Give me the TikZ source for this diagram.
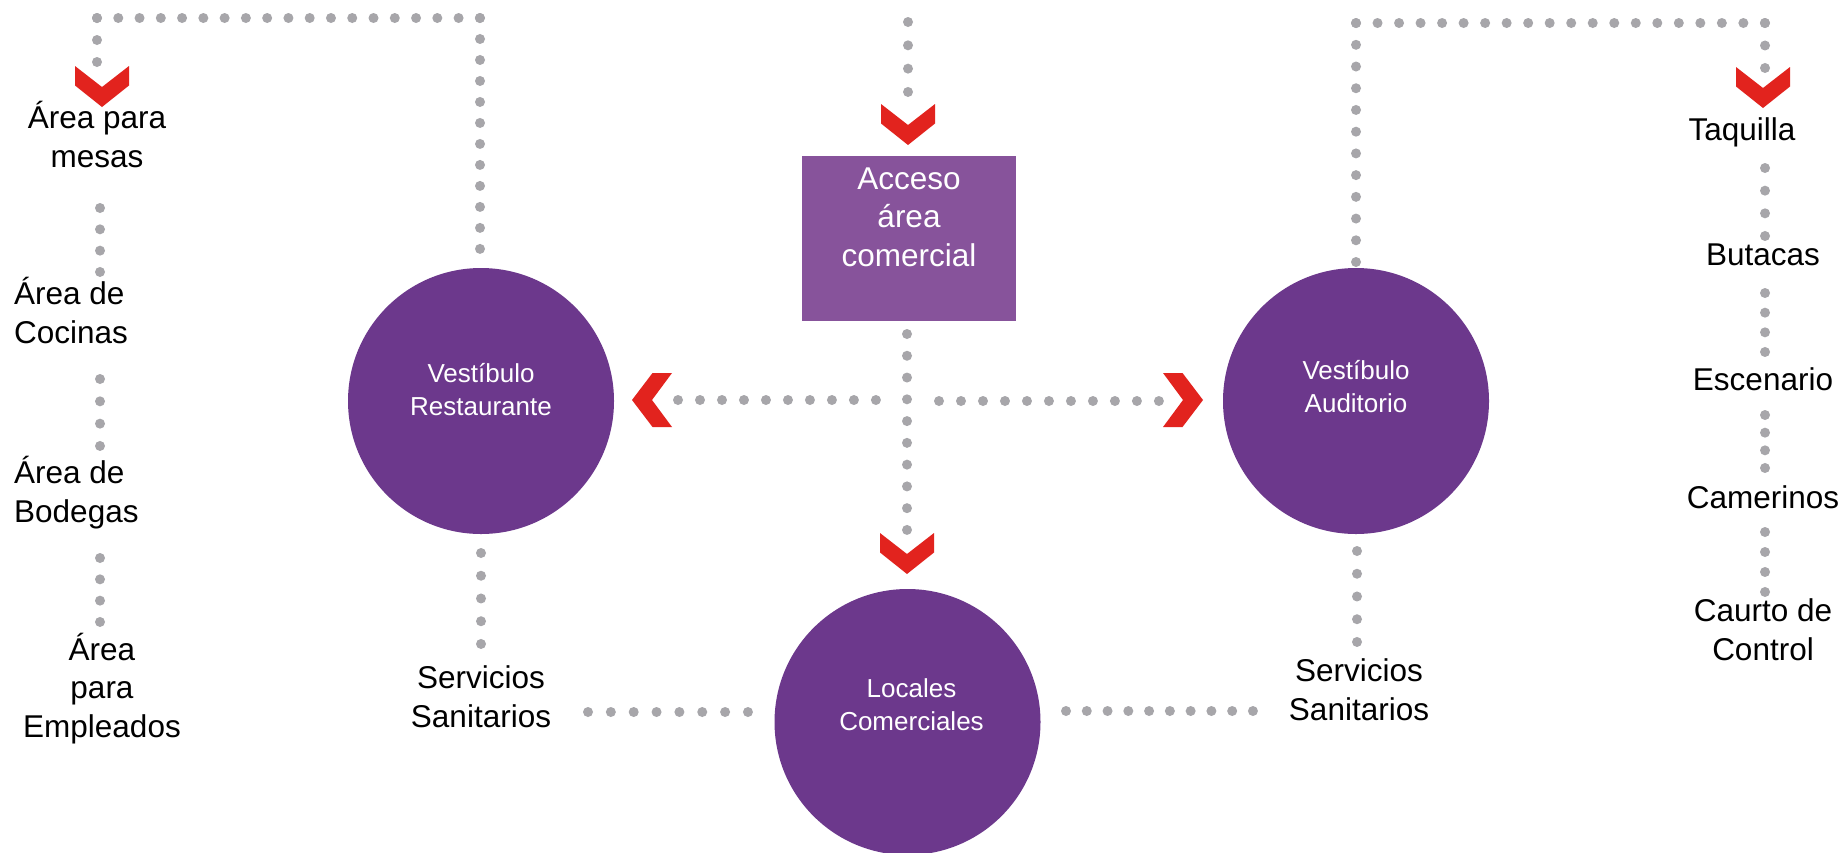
\documentclass[tikz,border=0pt]{standalone}
\usepackage{fontspec}
\setmainfont{Liberation Sans}
\definecolor{circ}{HTML}{6C388C}
\definecolor{boxc}{HTML}{87539B}
\definecolor{chevc}{HTML}{E2231E}
\definecolor{dotgray}{HTML}{A7A6AA}
\newcommand{\chevDown}[1]{\fill[chev, shift={#1}] (0,0) -- (-27,-21.5) -- (-27,-41) -- (0,-20) -- (27,-41) -- (27,-21.5) -- cycle;}
\newcommand{\chevLeft}[1]{\fill[chev, shift={#1}] (0,0) -- (20.5,-27) -- (40,-27) -- (20,0) -- (40,27) -- (20.5,27) -- cycle;}
\newcommand{\chevRight}[1]{\fill[chev, shift={#1}] (0,0) -- (-20.5,-27) -- (-40,-27) -- (-20,0) -- (-40,27) -- (-20.5,27) -- cycle;}
\begin{document}
\begin{tikzpicture}[x=1pt,y=-1pt,
  dots/.style={draw=dotgray, line width=10pt, line cap=round, dash pattern=on 0pt off #1pt},
  lbl/.style={font=\fontsize{31.5}{38.5}\selectfont, inner sep=0pt, text=black},
  ctext/.style={font=\fontsize{26}{33}\selectfont, text=white, inner sep=0pt, align=center},
  hub/.style={circle, fill=circ, minimum size=266pt, inner sep=0pt},
  boxnode/.style={rectangle, fill=boxc, minimum width=214pt, minimum height=165pt, inner sep=0pt},
  chev/.style={fill=chevc}
]
\useasboundingbox (0,0) rectangle (1841,852);
\fill[white] (0,0) rectangle (1841,852);
\clip (0,0) rectangle (1841,852);

% hubs
\node[hub, label={[ctext, yshift=11.5pt]center:{Vestíbulo\\Restaurante}}] (rest) at (481,401) {};
\node[hub, label={[ctext, yshift=14.5pt]center:{Vestíbulo\\Auditorio}}] (audi) at (1356,401) {};
\node[hub, label={[ctext, yshift=17pt, xshift=4pt]center:{Locales\\Comerciales}}] (loc) at (907.5,722) {};
\node[boxnode, label={[lbl, text=white, align=center, yshift=-111pt]north:{Acceso\\área\\comercial}}] (acceso) at (909,238.5) {};

% labels (anchor base = last line baseline)
\node[lbl, align=center, anchor=base] (mesas) at (97,167) {Área para\\mesas};
\node[lbl, align=left, anchor=base west] (cocinas) at (14,343) {Área de\\Cocinas};
\node[lbl, align=left, anchor=base west] (bodegas) at (14,522) {Área de\\Bodegas};
\node[lbl, align=center, anchor=base] (empleados) at (102,737) {Área\\para\\Empleados};
\node[lbl, align=center, anchor=base] (sanL) at (481,727) {Servicios\\Sanitarios};
\node[lbl, align=center, anchor=base] (sanR) at (1359,720) {Servicios\\Sanitarios};
\node[lbl, anchor=base] (taquilla) at (1742,140) {Taquilla};
\node[lbl, anchor=base] (butacas) at (1763,265) {Butacas};
\node[lbl, anchor=base] (escenario) at (1763,390) {Escenario};
\node[lbl, anchor=base] (camerinos) at (1763,508) {Camerinos};
\node[lbl, align=center, anchor=base] (control) at (1763,660) {Caurto de\\Control};

% dotted connector end points
\coordinate (tlA) at (97,62);   \coordinate (tlB) at (97,18);
\coordinate (tlC) at (480,18);  \coordinate (tlD) at (480,249);
\coordinate (lcA) at (100,208); \coordinate (lcB) at (100,272);
\coordinate (lcC) at (100,379); \coordinate (lcD) at (100,446);
\coordinate (lcE) at (100,558); \coordinate (lcF) at (100,622);
\coordinate (ctA) at (908,22);  \coordinate (ctB) at (908,92);
\coordinate (ctC) at (907,334); \coordinate (ctD) at (907,530);
\coordinate (hzA) at (678,400); \coordinate (hzB) at (876,400);
\coordinate (hzC) at (939,401); \coordinate (hzD) at (1159,401);
\coordinate (blA) at (481,553); \coordinate (blB) at (481,644);
\coordinate (blC) at (588,712); \coordinate (blD) at (748,712);
\coordinate (brA) at (1066,711); \coordinate (brB) at (1253,711);
\coordinate (brC) at (1357,551); \coordinate (brD) at (1357,642);
\coordinate (trA) at (1356,262); \coordinate (trB) at (1356,23);
\coordinate (trC) at (1765,23);  \coordinate (trD) at (1765,68);
\coordinate (rcA) at (1765,168); \coordinate (rcB) at (1765,236);
\coordinate (rcC) at (1765,293); \coordinate (rcD) at (1765,352);
\coordinate (rcE) at (1765,415); \coordinate (rcF) at (1765,468);
\coordinate (rcG) at (1765,532); \coordinate (rcH) at (1765,592);

% dotted connectors
\draw[dots=21.99] (tlA) -- (tlB);
\draw[dots=21.27] (tlB) -- (tlC);
\draw[dots=20.99] (tlC) -- (tlD);
\draw[dots=21.32] (lcA) -- (lcB);
\draw[dots=22.32] (lcC) -- (lcD);
\draw[dots=21.32] (lcE) -- (lcF);
\draw[dots=23.32] (ctA) -- (ctB);
\draw[dots=21.77] (ctC) -- (ctD);
\draw[dots=21.99] (hzA) -- (hzB);
\draw[dots=21.99] (hzC) -- (hzD);
\draw[dots=22.74] (blA) -- (blB);
\draw[dots=22.85] (blC) -- (blD);
\draw[dots=20.77] (brA) -- (brB);
\draw[dots=22.74] (brC) -- (brD);
\draw[dots=21.72] (trA) -- (trB);
\draw[dots=21.52] (trB) -- (trC);
\draw[dots=22.49] (trC) -- (trD);
\draw[dots=22.66] (rcA) -- (rcB);
\draw[dots=19.66] (rcC) -- (rcD);
\draw[dots=17.66] (rcE) -- (rcF);
\draw[dots=19.99] (rcG) -- (rcH);

% chevrons
\chevDown{(102,107)}
\chevDown{(908,145)}
\chevDown{(1763,108)}
\chevDown{(907,574)}
\chevLeft{(632,400)}
\chevRight{(1203,400)}
\end{tikzpicture}
\end{document}
